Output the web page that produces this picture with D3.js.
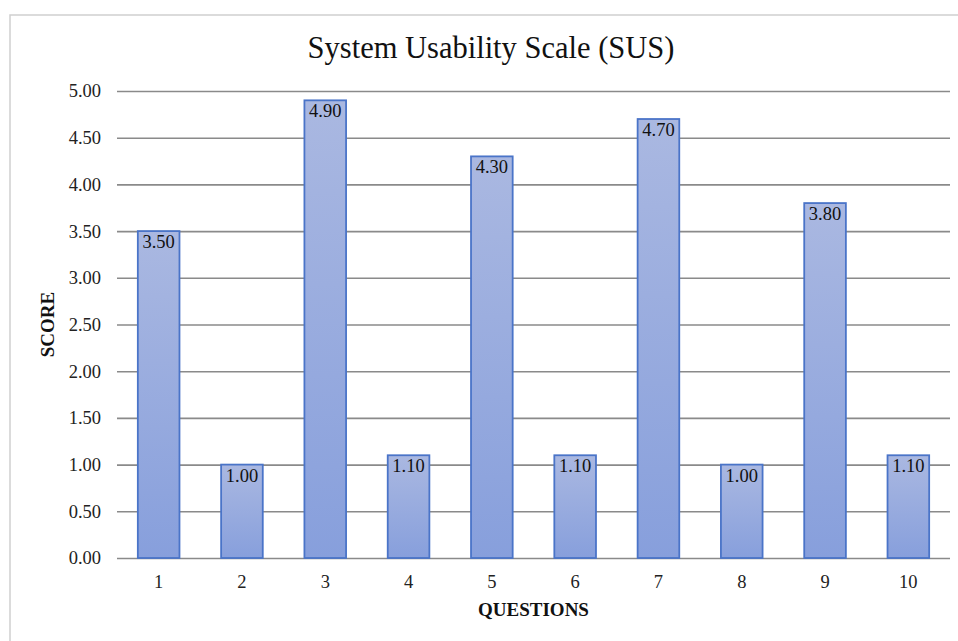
<!DOCTYPE html>
<html><head><meta charset="utf-8">
<script src="https://cdn.jsdelivr.net/npm/d3@7"></script>
<style>body{margin:0;background:#fff;} svg{display:block;} text{font-family:"Liberation Serif", serif;}</style>
</head><body>
<svg id="chart" width="958" height="641"></svg>
<script>
const categories = ["1","2","3","4","5","6","7","8","9","10"];
const scores = [3.5, 1.0, 4.9, 1.1, 4.3, 1.1, 4.7, 1.0, 3.8, 1.1];
const yTicks = [0,0.5,1,1.5,2,2.5,3,3.5,4,4.5,5];
const title = "System Usability Scale (SUS)";
const xTitle = "QUESTIONS";
const yTitle = "SCORE";

const svg = d3.select("#chart");
const m = {left:117, right:950, top:91, bottom:558};

// frame
svg.append("rect").attr("x",10).attr("y",15).attr("width",960).attr("height",640)
  .attr("fill","none").attr("stroke","#cfcfcf").attr("stroke-width",1.5);

const defs = svg.append("defs");
const g = defs.append("linearGradient").attr("id","barGrad").attr("x1",0).attr("y1",0).attr("x2",0).attr("y2",1);
g.append("stop").attr("offset","0%").attr("stop-color","#aab8e1");
g.append("stop").attr("offset","100%").attr("stop-color","#879fdc");

const x = d3.scaleBand().domain(categories).range([m.left,m.right]).paddingInner(0.5).paddingOuter(0.25);
const y = d3.scaleLinear().domain([0,5]).range([m.bottom,m.top]);

// gridlines
const yAxis = d3.axisLeft(y).tickValues(yTicks).tickFormat(d3.format(".2f"))
  .tickSize(-(m.right-m.left)).tickPadding(16);
const ya = svg.append("g").attr("transform",`translate(${m.left},0)`).call(yAxis);
ya.select(".domain").remove();
ya.selectAll(".tick line").attr("stroke","#8a8a8a").attr("stroke-width",1.6);
ya.selectAll(".tick text").attr("font-family",null).attr("font-size",18.5).attr("fill","#222").attr("x",-16);

// bars
svg.append("g").selectAll("rect").data(scores).join("rect")
  .attr("x",(d,i)=>x(categories[i])).attr("width",x.bandwidth())
  .attr("y",d=>y(d)).attr("height",d=>y(0)-y(d))
  .attr("fill","url(#barGrad)").attr("stroke","#4a74c8").attr("stroke-width",1.8);

// labels
svg.append("g").selectAll("text").data(scores).join("text")
  .attr("x",(d,i)=>x(categories[i])+x.bandwidth()/2).attr("y",d=>y(d)+17)
  .attr("text-anchor","middle").attr("font-size",18.5).attr("fill","#111")
  .text(d=>d.toFixed(2));

// x axis
const xAxis = d3.axisBottom(x).tickSize(0).tickPadding(17);
const xa = svg.append("g").attr("transform",`translate(0,${m.bottom})`).call(xAxis);
xa.select(".domain").remove();
xa.selectAll(".tick text").attr("font-family",null).attr("font-size",18.5).attr("fill","#222");
svg.selectAll(".tick text").attr("font-family",null);
svg.selectAll("g").attr("font-family",null);

// titles
svg.append("text").attr("x",491).attr("y",58).attr("text-anchor","middle")
  .attr("font-size",30.5).attr("fill","#111").text(title);
svg.append("text").attr("x",(m.left+m.right)/2).attr("y",616).attr("text-anchor","middle")
  .attr("font-size",19).attr("font-weight","bold").attr("fill","#111").text(xTitle);
svg.append("text").attr("transform",`translate(54,${(m.top+m.bottom)/2}) rotate(-90)`).attr("text-anchor","middle")
  .attr("font-size",19).attr("font-weight","bold").attr("fill","#111").text(yTitle);
</script>
</body></html>
